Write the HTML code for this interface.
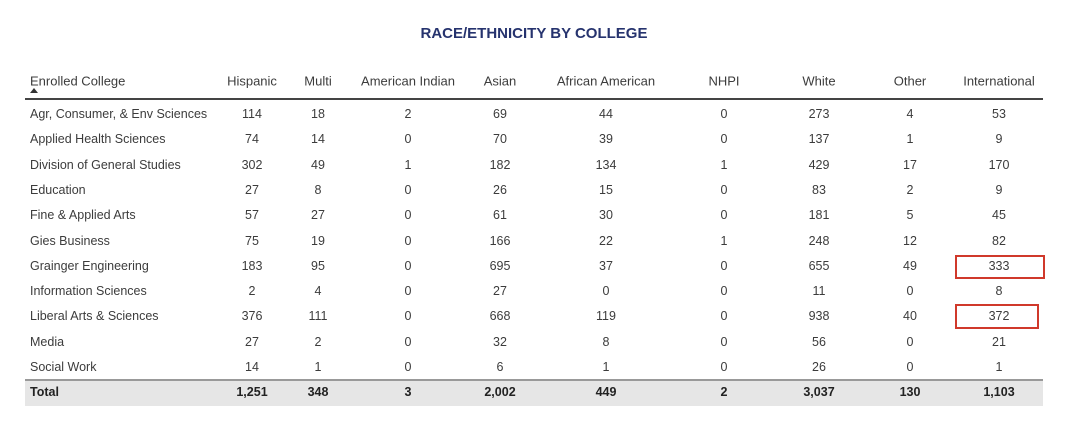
<!DOCTYPE html>
<html><head><meta charset="utf-8"><style>
body{margin:0;width:1080px;height:439px;background:#fff;font-family:"Liberation Sans",sans-serif;position:relative;overflow:hidden}
.t{position:absolute;white-space:nowrap;font-size:12.5px;color:#3c3c3c;transform:translate(-50%,-50%)}
.h{font-size:13px}
.l{transform:translate(0,-50%)}
.b{font-weight:bold;color:#222}
</style></head><body>
<div style="position:absolute;left:0;width:1068px;top:25px;text-align:center;font-weight:bold;font-size:15px;color:#26336e">RACE/ETHNICITY BY COLLEGE</div>
<div style="position:absolute;left:25px;width:1018px;top:98px;height:1.5px;background:#444"></div>
<div style="position:absolute;left:25px;width:1018px;top:379px;height:25px;background:#e6e6e6;border-top:2px solid #999"></div>
<div style="position:absolute;left:30px;top:88px;width:0;height:0;border-left:4px solid transparent;border-right:4px solid transparent;border-bottom:5px solid #333"></div>
<div style="position:absolute;left:955px;top:255px;width:86px;height:20px;border:2px solid #d0392b"></div>
<div style="position:absolute;left:955px;top:304px;width:80px;height:21px;border:2px solid #d0392b"></div>
<div id="tbl"></div>
<script>
const headers=["Enrolled College","Hispanic","Multi","American Indian","Asian","African American","NHPI","White","Other","International"];
const colleges=["Agr, Consumer, & Env Sciences","Applied Health Sciences","Division of General Studies","Education","Fine & Applied Arts","Gies Business","Grainger Engineering","Information Sciences","Liberal Arts & Sciences","Media","Social Work"];
const values=[[114,18,2,69,44,0,273,4,53],[74,14,0,70,39,0,137,1,9],[302,49,1,182,134,1,429,17,170],[27,8,0,26,15,0,83,2,9],[57,27,0,61,30,0,181,5,45],[75,19,0,166,22,1,248,12,82],[183,95,0,695,37,0,655,49,333],[2,4,0,27,0,0,11,0,8],[376,111,0,668,119,0,938,40,372],[27,2,0,32,8,0,56,0,21],[14,1,0,6,1,0,26,0,1]];
const totals=["1,251","348","3","2,002","449","2","3,037","130","1,103"];
const colX=[252,318,408,500,606,724,819,910,999];
const root=document.body;
function add(txt,x,y,cls,name){const d=document.createElement('div');d.className=cls;d.textContent=txt;d.style.left=x+'px';d.style.top=y+'px';


root.appendChild(d);return d;}
const hy=81;
const h0=add(headers[0],30,hy,'t l h','header-enrolled-college');

headers.slice(1).forEach((h,i)=>{const e=add(h,colX[i],hy,'t h','header-'+h.toLowerCase().replace(/ /g,'-'));
});
colleges.forEach((c,r)=>{const y=114+r*25.3;
add(c,30,y,'t l','row-label');
values[r].forEach((v,i)=>add(String(v),colX[i],y,'t','cell'));});
add('Total',30,392,'t l b','total-label');
totals.forEach((v,i)=>add(v,colX[i],392,'t b','total-cell'));
</script>
</body></html>
